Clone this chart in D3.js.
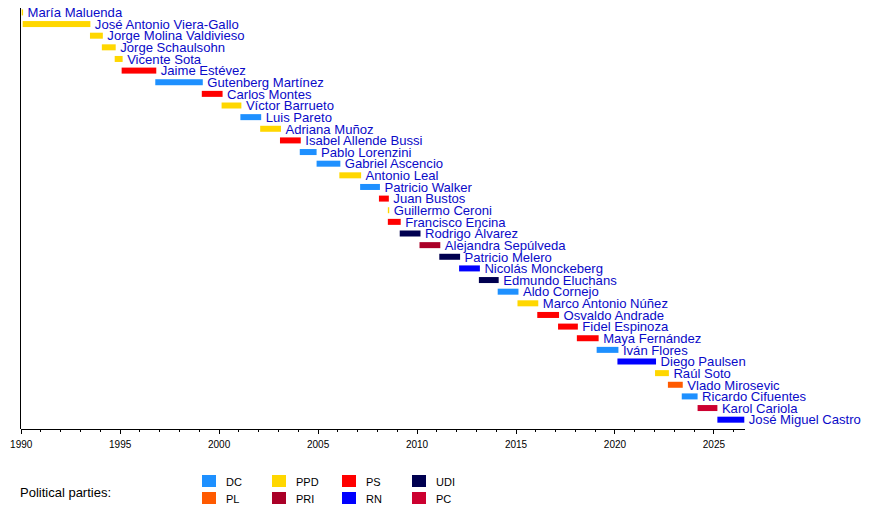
<!DOCTYPE html>
<html>
<head>
<meta charset="utf-8">
<script src="https://cdn.jsdelivr.net/npm/d3@7"></script>
<style>
  body { margin: 0; background: #fff; }
  svg { display: block; font-family: "Liberation Sans", Arial, sans-serif; }
</style>
</head>
<body>
<script>
// presidents of the chamber, in order, with party and term (decimal years)
let names = ['María Maluenda', 'José Antonio Viera-Gallo', 'Jorge Molina Valdivieso', 'Jorge Schaulsohn',
    'Vicente Sota', 'Jaime Estévez', 'Gutenberg Martínez', 'Carlos Montes', 'Víctor Barrueto', 'Luis Pareto',
    'Adriana Muñoz', 'Isabel Allende Bussi', 'Pablo Lorenzini', 'Gabriel Ascencio', 'Antonio Leal',
    'Patricio Walker', 'Juan Bustos', 'Guillermo Ceroni', 'Francisco Encina', 'Rodrigo Álvarez',
    'Alejandra Sepúlveda', 'Patricio Melero', 'Nicolás Monckeberg', 'Edmundo Eluchans', 'Aldo Cornejo',
    'Marco Antonio Núñez', 'Osvaldo Andrade', 'Fidel Espinoza', 'Maya Fernández', 'Iván Flores',
    'Diego Paulsen', 'Raúl Soto', 'Vlado Mirosevic', 'Ricardo Cifuentes', 'Karol Cariola', 'José Miguel Castro'];

let parties = ['PPD', 'PPD', 'PPD', 'PPD', 'PPD', 'PS', 'DC', 'PS', 'PPD', 'DC',
    'PPD', 'PS', 'DC', 'DC', 'PPD', 'DC', 'PS', 'PPD', 'PS', 'UDI',
    'PRI', 'UDI', 'RN', 'UDI', 'DC', 'PPD', 'PS', 'PS', 'PS', 'DC',
    'RN', 'PPD', 'PL', 'DC', 'PC', 'RN'];

let starts = [1990.05, 1990.1, 1993.5, 1994.1, 1994.75, 1995.1, 1996.8, 1999.15, 2000.15, 2001.1,
    2002.1, 2003.1, 2004.1, 2004.95, 2006.1, 2007.15, 2008.1, 2008.55, 2008.55, 2009.15,
    2010.15, 2011.15, 2012.15, 2013.15, 2014.1, 2015.1, 2016.1, 2017.15, 2018.1, 2019.1,
    2020.15, 2022.05, 2022.7, 2023.4, 2024.2, 2025.2];

let ends = [1990.12, 1993.52, 1994.15, 1994.8, 1995.15, 1996.85, 1999.2, 2000.2, 2001.15, 2002.15,
    2003.15, 2004.15, 2004.95, 2006.15, 2007.2, 2008.15, 2008.6, 2008.62, 2009.2, 2010.2,
    2011.2, 2012.2, 2013.2, 2014.15, 2015.15, 2016.15, 2017.2, 2018.15, 2019.2, 2020.2,
    2022.1, 2022.75, 2023.45, 2024.2, 2025.2, 2026.56];

let legendParties = ['DC', 'PL', 'PPD', 'PRI', 'PS', 'RN', 'UDI', 'PC'];
let partyColors = ['#1e90ff', '#ff5a00', '#ffd700', '#aa0028', '#ff0000', '#0000ff', '#000050', '#cc0030'];

let rows = names.map(function (n, i) {
    return { name: n, party: parties[i], start: starts[i], end: ends[i] };
});

let svg = d3.select('body')
    .append('svg')
        .attr('width', 875)
        .attr('height', 508);

let x = d3.scaleLinear()
    .domain([1990, 2026.56])
    .range([20.7, 744.3]);

let y = d3.scaleBand()
    .domain(names)
    .range([6.6, 425.5]);

let color = d3.scaleOrdinal()
    .domain(legendParties)
    .range(partyColors);

// ============================================ BARS ===================================================================
svg.selectAll('rect.term')
    .data(rows).enter()
    .append('rect')
        .attr('class', 'term')
        .attr('x', function (d) { return x(d.start) })
        .attr('width', function (d) { return Math.max(1, x(d.end) - x(d.start)) })
        .attr('y', function (d) { return y(d.name) + y.bandwidth() / 2 - 3 })
        .attr('height', 6)
        .attr('fill', function (d) { return color(d.party) })
;

svg.selectAll('text.name')
    .data(rows).enter()
    .append('text')
        .attr('class', 'name')
        .attr('x', function (d) { return x(d.end) + 4.5 })
        .attr('y', function (d) { return y(d.name) + y.bandwidth() / 2 + 4.8 })
        .attr('font-size', '13.1px')
        .attr('fill', '#0a0ac8')
        .text(function (d) { return d.name })
;

// ============================================ AXES ===================================================================
svg.append('line')
    .attr('x1', x(1990)).attr('x2', x(1990))
    .attr('y1', 8).attr('y2', 429)
    .attr('stroke', '#000')
    .attr('shape-rendering', 'crispEdges');

let minorAxis = d3.axisBottom(x)
    .tickValues(d3.range(1990, 2027, 1))
    .tickSize(3)
    .tickFormat('');

svg.append('g')
    .attr('transform', 'translate(0,429)')
    .call(minorAxis)
    .call(function (g) { g.select('.domain').remove() })
    .selectAll('line').attr('shape-rendering', 'crispEdges');

let majorAxis = d3.axisBottom(x)
    .tickValues(d3.range(1990, 2026, 5))
    .tickSize(5)
    .tickSizeOuter(0)
    .tickPadding(7)
    .tickFormat(d3.format('d'));

let axisG = svg.append('g')
    .attr('transform', 'translate(0,429)')
    .call(majorAxis);

axisG.selectAll('line, path').attr('shape-rendering', 'crispEdges');
axisG.selectAll('text')
    .attr('font-size', '10px')
    .attr('font-family', '"Liberation Sans", Arial, sans-serif')
    .attr('fill', '#000');

// ============================================ LEGEND =================================================================
svg.append('text')
    .attr('x', 20)
    .attr('y', 497)
    .attr('font-size', '13px')
    .attr('fill', '#000')
    .text('Political parties:');

let legend = svg.selectAll('g.legend')
    .data(legendParties).enter()
    .append('g')
        .attr('class', 'legend')
        .attr('transform', function (d, i) {
            return 'translate(' + (202 + Math.floor(i / 2) * 70) + ',' + (475 + (i % 2) * 17) + ')'
        });

legend.append('rect')
    .attr('width', 14)
    .attr('height', 12)
    .attr('fill', function (d) { return color(d) });

legend.append('text')
    .attr('x', 24)
    .attr('y', 10.5)
    .attr('font-size', '11px')
    .attr('fill', '#000')
    .text(function (d) { return d });
</script>
</body>
</html>
